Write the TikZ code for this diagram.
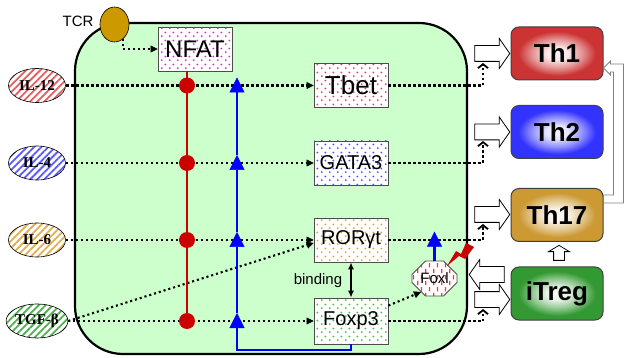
\documentclass[tikz,border=0pt]{standalone}
\usepackage{fontspec}
\setmainfont{Liberation Sans}
\newfontfamily\ilfont{Liberation Serif}
\usetikzlibrary{shapes.geometric,shapes.arrows,shapes.misc,arrows.meta,patterns,patterns.meta,calc}

\definecolor{cellgreen}{HTML}{CCFFCC}
\definecolor{tcrgold}{HTML}{CC9900}
\definecolor{redmark}{HTML}{CC0000}
\definecolor{bluemark}{HTML}{0000FF}
\definecolor{il12col}{HTML}{E06060}
\definecolor{il4col}{HTML}{5A5AFF}
\definecolor{il6col}{HTML}{E0B050}
\definecolor{tgfcol}{HTML}{50B050}
\definecolor{nfatcol}{HTML}{CC33CC}
\definecolor{tbetcol}{HTML}{E0407A}
\definecolor{gatacol}{HTML}{5050FF}
\definecolor{rorcol}{HTML}{E0A040}
\definecolor{foxcol}{HTML}{40C040}
\definecolor{th1col}{HTML}{CC3333}
\definecolor{th2col}{HTML}{3333FF}
\definecolor{th17col}{HTML}{CC9933}
\definecolor{tregcol}{HTML}{339933}

% dot and dash fillings for the boxes
\pgfdeclarepatternformonly{sdots}{\pgfpointorigin}{\pgfpoint{8pt}{8pt}}{\pgfpoint{8pt}{8pt}}{%
  \pgfpathcircle{\pgfpoint{2pt}{2pt}}{1.1pt}%
  \pgfpathcircle{\pgfpoint{6pt}{6pt}}{1.1pt}%
  \pgfusepath{fill}}
\pgfdeclarepatternformonly{vdash}{\pgfpointorigin}{\pgfpoint{8pt}{12pt}}{\pgfpoint{8pt}{12pt}}{%
  \pgfsetlinewidth{1.3pt}%
  \pgfpathmoveto{\pgfpoint{2pt}{1pt}}\pgfpathlineto{\pgfpoint{2pt}{5.5pt}}%
  \pgfpathmoveto{\pgfpoint{6pt}{7pt}}\pgfpathlineto{\pgfpoint{6pt}{11.5pt}}%
  \pgfusepath{stroke}}

% white core, coloured rim
\colorlet{glowcol}{red}
\pgfdeclareradialshading[glowcol]{glow}{\pgfpointorigin}{color(0bp)=(glowcol!5!white);color(6bp)=(glowcol!12!white);color(14bp)=(glowcol!55!white);color(21bp)=(glowcol);color(50bp)=(glowcol)}

\begin{document}
\begin{tikzpicture}[x=1pt,y=-1pt,
    cellbox/.style={draw=black,line width=2.2pt,fill=cellgreen,rounded corners=48pt,minimum width=392pt,minimum height=331pt,inner sep=0pt},
    ilell/.style={ellipse,draw=black,line width=0.6pt,minimum width=57pt,minimum height=34pt,inner sep=0pt,
      preaction={fill=white},pattern={Lines[angle=45,distance=5pt,line width=1.8pt]},font=\ilfont\fontsize{15}{17}\selectfont\bfseries},
    tfbox/.style={draw=black!70,line width=0.8pt,minimum width=74pt,minimum height=44pt,inner sep=0pt,
      preaction={fill=white},pattern=sdots,font=\fontsize{20}{24}\selectfont},
    foxlbox/.style={chamfered rectangle,chamfered rectangle xsep=10pt,chamfered rectangle ysep=8pt,draw=black!70,line width=0.8pt,
      minimum width=45pt,minimum height=35pt,inner sep=0pt,preaction={fill=white},pattern=vdash,pattern color=red!80,font=\fontsize{15}{18}\selectfont},
    outbox/.style={rounded corners=8pt,minimum width=92pt,minimum height=53pt,draw=black!75,line width=1pt,font=\fontsize{26}{30}\selectfont\bfseries},
    glow/.style={/utils/exec={\colorlet{glowcol}{#1}},shading=glow},
    blockarr/.style={single arrow,draw=black,line width=0.8pt,fill=white,minimum height=35pt,inner sep=0pt,
      text height=7.5pt,text depth=7.5pt,text width=1pt,single arrow head extend=7pt,single arrow tip angle=110},
    smallarr/.style={single arrow,draw=black,line width=0.8pt,fill=white,minimum height=15pt,inner sep=0pt,
      text width=10pt,text height=1pt,text depth=0pt,single arrow head extend=5pt,single arrow tip angle=118,shape border rotate=90},
    reddot/.style={circle,fill=redmark,minimum size=16pt,inner sep=0pt},
    dotline/.style={line width=2.1pt,dash pattern=on 2.1pt off 2.9pt},
    dotarrow/.style={dotline,-{Triangle[length=7pt,width=7pt,line width=0.5pt]}},
    dotchev/.style={dotline,-{Straight Barb[length=4pt,width=10pt,line width=1.8pt]}},
    redline/.style={draw=redmark,line width=2.4pt},
    blueline/.style={draw=bluemark,line width=2.4pt,-{Triangle[length=15pt,width=15pt,line width=0.5pt]}},
    bindline/.style={line width=1.3pt,{Latex[length=7pt,width=6pt]}-{Latex[length=7pt,width=6pt]}},
    hollow/.style={draw=gray,line width=0.8pt,fill=white}]
\useasboundingbox (0,0) rectangle (624,358);

% the cell
\node[cellbox] (cell) at (271,188.5) {};
\node[font=\fontsize{15}{18}\selectfont] (tcrlab) at (78,21) {TCR};
\node[ellipse,draw=black,line width=0.6pt,fill=tcrgold,minimum width=29pt,minimum height=35pt,inner sep=0pt] (tcr) at (114.5,24.5) {};

% cytokines
\node[ilell,pattern color=il12col] (il12) at (37,85.5) {IL-12};
\node[ilell,pattern color=il4col] (il4) at (37,163) {IL-4};
\node[ilell,pattern color=il6col] (il6) at (37,240) {IL-6};
\node[ilell,pattern color=tgfcol] (tgfb) at (37,321) {TGF-β};

% transcription factors
\node[tfbox,pattern color=nfatcol,font=\fontsize{24}{28}\selectfont] (nfat) at (195,49) {NFAT};
\node[tfbox,pattern color=tbetcol,font=\fontsize{26}{30}\selectfont] (tbet) at (351,85.5) {Tbet};
\node[tfbox,pattern color=gatacol] (gata3) at (351,163) {GATA3};
\node[tfbox,pattern color=rorcol] (rorgt) at (351,240) {RORγt};
\node[tfbox,pattern color=foxcol,minimum height=46pt] (foxp3) at (351,321) {Foxp3};
\node[foxlbox] (foxl) at (434.5,278.5) {Foxl};

% block arrows
\node[blockarr] (a1) at (489.5,53.5) {};
\node[blockarr] (a2) at (489.5,132) {};
\node[blockarr] (a3) at (489.5,214.5) {};
\node[blockarr,shape border rotate=180] (a4) at (489.5,274.5) {};
\node[blockarr] (a5) at (489.5,299.5) {};
\node[smallarr] (a6) at (559,254.5) {};

% T cell subsets
\node[outbox,glow=th1col] (th1) at (557,53.5) {Th1};
\node[outbox,glow=th2col] (th2) at (557,132) {Th2};
\node[outbox,glow=th17col] (th17) at (557,215) {Th17};
\node[outbox,glow=tregcol] (itreg) at (557,293.5) {iTreg};

% signals
\draw[dotarrow] (tcr.-60) |- (nfat.west);
\draw[dotarrow] (il12.east) -- (tbet.west);
\draw[dotarrow] (il4.east) -- (gata3.west);
\draw[dotarrow] (il6.east) -- (rorgt.west);
\draw[dotarrow] (tgfb.east) -- (foxp3.west);
\draw[dotarrow] (tgfb.east) -- ($(rorgt.west)+(0,3)$);
\draw[dotarrow] ($(foxp3.north east)+(0,8)$) -- (foxl.225);

\coordinate (c1) at (483,63);
\coordinate (c2) at (483,141);
\coordinate (c3) at (483,224);
\coordinate (c5) at (483,309);
\draw[dotchev] (tbet.east) -| (c1);
\draw[dotchev] (gata3.east) -| (c2);
\draw[dotchev] (rorgt.east) -| (c3);
\draw[dotchev] (foxp3.east) -| (c5);

% NFAT
\draw[redline] ($(nfat.south)+(-8,0)$) -- (187,321);
\node[reddot] (r1) at (187,85.5) {};
\node[reddot] (r2) at (187,163) {};
\node[reddot] (r3) at (187,240) {};
\node[reddot] (r4) at (187,321) {};

% Foxp3 feedback
\draw[blueline] (foxp3.south) |- (237,350) -- (237,313);
\draw[blueline] (237,313) -- (237,232);
\draw[blueline] (237,232) -- (237,155);
\draw[blueline] (237,155) -- (237,77.5);
\draw[blueline] (foxl.north) -- ++(0,-29);

\draw[bindline] (rorgt.south) -- (foxp3.north);
\node[font=\fontsize{15}{18}\selectfont] (bind) at (318,281) {binding};

\fill[redmark] (447,266) -- (456,251) -- (461,254) -- (466,243) -- (474,247) -- (465,259) -- (459,256) -- cycle;

% Th17 -> Th1
\draw[hollow] ($(th17.east)+(0,-12)$) -- ++(20,0) -- ++(0,-139) -- ++(-13,0) -- ++(0,-3) -- ++(-7,7)
  -- ++(7,7) -- ++(0,-3) -- ++(3,0) -- ++(0,123) -- ++(-10,0) -- cycle;
\end{tikzpicture}
\end{document}
